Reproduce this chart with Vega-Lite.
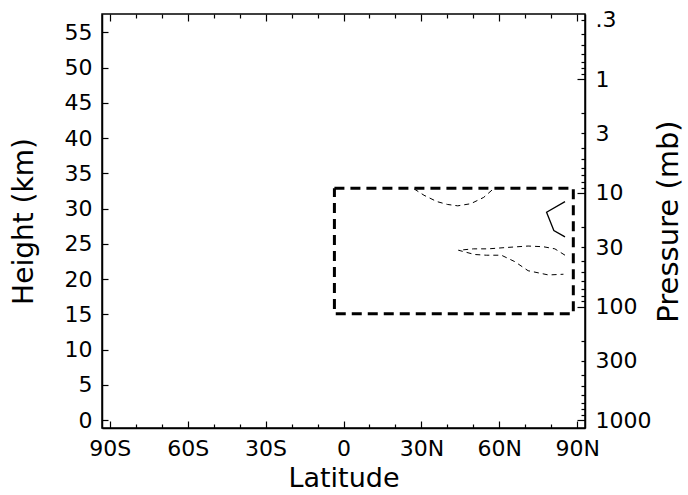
{
  "$schema": "https://vega.github.io/schema/vega-lite/v6.json",
  "autosize": "none",
  "padding": {"left": 102, "top": 14, "right": 103, "bottom": 67},
  "width": 483,
  "height": 414,
  "background": "white",
  "config": {
    "view": {"stroke": "black", "strokeWidth": 1.5},
    "font": "DejaVu Sans",
    "axis": {
      "labelFont": "DejaVu Sans",
      "titleFont": "DejaVu Sans",
      "labelColor": "black",
      "titleColor": "black",
      "domainColor": "black",
      "domainWidth": 1.5,
      "tickColor": "black",
      "tickWidth": 1.2,
      "grid": false,
      "labelFontSize": 22,
      "titleFontSize": 28,
      "titleFontWeight": "normal",
      "labelFlush": false,
      "labelOverlap": false
    }
  },
  "datasets": {
    "box": [
      {"lat": -3.5, "h": 32.9, "i": 1},
      {"lat": 88.5, "h": 32.9, "i": 2},
      {"lat": 88.5, "h": 15.1, "i": 3},
      {"lat": -3.5, "h": 15.1, "i": 4},
      {"lat": -3.5, "h": 32.9, "i": 5}
    ],
    "dashed": [
      {"id": "a", "lat": 27.2, "h": 32.8, "i": 1},
      {"id": "a", "lat": 31, "h": 31.9, "i": 2},
      {"id": "a", "lat": 36, "h": 31.0, "i": 3},
      {"id": "a", "lat": 40, "h": 30.6, "i": 4},
      {"id": "a", "lat": 44, "h": 30.4, "i": 5},
      {"id": "a", "lat": 49, "h": 30.7, "i": 6},
      {"id": "a", "lat": 54, "h": 31.6, "i": 7},
      {"id": "a", "lat": 57.7, "h": 32.8, "i": 8},
      {"id": "b", "lat": 85.3, "h": 23.4, "i": 1},
      {"id": "b", "lat": 81.4, "h": 24.3, "i": 2},
      {"id": "b", "lat": 77, "h": 24.6, "i": 3},
      {"id": "b", "lat": 71.1, "h": 24.7, "i": 4},
      {"id": "b", "lat": 63, "h": 24.5, "i": 5},
      {"id": "b", "lat": 55.7, "h": 24.3, "i": 6},
      {"id": "b", "lat": 50, "h": 24.3, "i": 7},
      {"id": "b", "lat": 44.3, "h": 24.1, "i": 8},
      {"id": "b", "lat": 50.5, "h": 23.5, "i": 9},
      {"id": "b", "lat": 55, "h": 23.4, "i": 10},
      {"id": "b", "lat": 60.8, "h": 23.4, "i": 11},
      {"id": "b", "lat": 65.9, "h": 22.5, "i": 12},
      {"id": "b", "lat": 71.1, "h": 21.2, "i": 13},
      {"id": "b", "lat": 78.9, "h": 20.6, "i": 14},
      {"id": "b", "lat": 84.7, "h": 20.7, "i": 15}
    ],
    "solid": [
      {"lat": 85.3, "h": 31.0, "i": 1},
      {"lat": 78.2, "h": 29.5, "i": 2},
      {"lat": 81.0, "h": 26.9, "i": 3},
      {"lat": 85.3, "h": 26.0, "i": 4}
    ],
    "pressure": [
      {"lat": 0, "p": 1000},
      {"lat": 0, "p": 0.3}
    ]
  },
  "layer": [
    {
      "layer": [
        {
          "data": {"name": "box"},
          "mark": {"type": "line", "color": "black", "strokeWidth": 3, "strokeDash": [10, 6]},
          "encoding": {
            "x": {
              "field": "lat", "type": "quantitative",
              "scale": {"domain": [-93, 93], "nice": false, "zero": false},
              "axis": {
                "orient": "bottom",
                "title": "Latitude",
                "titleFontSize": 27,
                "values": [-90, -60, -30, 0, 30, 60, 90],
                "labelExpr": "datum.value == 0 ? '0' : (datum.value < 0 ? (-datum.value) + 'S' : datum.value + 'N')",
                "ticks": false,
                "labelPadding": 10,
                "titlePadding": 6
              }
            },
            "y": {
              "field": "h", "type": "quantitative",
              "scale": {"domain": [-1.1, 57.6], "nice": false, "zero": false},
              "axis": {
                "orient": "left",
                "title": "Height (km)",
                "values": [0, 5, 10, 15, 20, 25, 30, 35, 40, 45, 50, 55],
                "ticks": false,
                "labelPadding": 10,
                "titlePadding": 26
              }
            },
            "order": {"field": "i"}
          }
        },
        {
          "data": {"name": "dashed"},
          "mark": {"type": "line", "color": "black", "strokeWidth": 1, "strokeDash": [5, 4]},
          "encoding": {
            "x": {"field": "lat", "type": "quantitative", "axis": null},
            "y": {"field": "h", "type": "quantitative", "axis": null},
            "detail": {"field": "id"},
            "order": {"field": "i"}
          }
        },
        {
          "data": {"name": "solid"},
          "mark": {"type": "line", "color": "black", "strokeWidth": 1.3},
          "encoding": {
            "x": {"field": "lat", "type": "quantitative", "axis": null},
            "y": {"field": "h", "type": "quantitative", "axis": null},
            "order": {"field": "i"}
          }
        },
        {
          "data": {"name": "box"},
          "mark": {"type": "point", "opacity": 0},
          "encoding": {
            "x": {
              "field": "lat", "type": "quantitative",
              "axis": {
                "orient": "bottom", "title": null, "labels": false, "domain": false, "zindex": 1,
                "values": [-90, -80, -70, -60, -50, -40, -30, -20, -10, 0, 10, 20, 30, 40, 50, 60, 70, 80, 90],
                "tickSize": {"condition": {"test": "datum.value % 30 == 0", "value": -7}, "value": -4}
              }
            },
            "y": {
              "field": "h", "type": "quantitative",
              "axis": {
                "orient": "left", "title": null, "labels": false, "domain": false, "zindex": 1,
                "values": [0, 5, 10, 15, 20, 25, 30, 35, 40, 45, 50, 55],
                "tickSize": -6
              }
            }
          }
        },
        {
          "data": {"name": "box"},
          "mark": {"type": "point", "opacity": 0},
          "encoding": {
            "x": {
              "field": "lat", "type": "quantitative",
              "axis": {
                "orient": "top", "title": null, "labels": false, "domain": false, "zindex": 1,
                "values": [-90, -80, -70, -60, -50, -40, -30, -20, -10, 0, 10, 20, 30, 40, 50, 60, 70, 80, 90],
                "tickSize": {"condition": {"test": "datum.value % 30 == 0", "value": -7}, "value": -4}
              }
            },
            "y": {"field": "h", "type": "quantitative", "axis": null}
          }
        }
      ],
      "resolve": {"axis": {"x": "independent", "y": "independent"}}
    },
    {
      "layer": [
        {
          "data": {"name": "pressure"},
          "mark": {"type": "point", "opacity": 0},
          "encoding": {
            "x": {"field": "lat", "type": "quantitative", "axis": null},
            "y": {
              "field": "p", "type": "quantitative",
              "scale": {"type": "log", "domain": [0.267, 1170], "reverse": true, "nice": false},
              "axis": {
                "orient": "right",
                "title": "Pressure (mb)",
                "titleAngle": 270,
                "titleBaseline": "top",
                "titleFontSize": 29,
                "values": [0.3, 1, 3, 10, 30, 100, 300, 1000],
                "labelExpr": "datum.value == 0.3 ? '.3' : '' + datum.value",
                "ticks": false,
                "labelPadding": 10,
                "titlePadding": 4
              }
            }
          }
        },
        {
          "data": {"name": "pressure"},
          "mark": {"type": "point", "opacity": 0},
          "encoding": {
            "x": {"field": "lat", "type": "quantitative", "axis": null},
            "y": {
              "field": "p", "type": "quantitative",
              "axis": {
                "orient": "right", "title": null, "labels": false, "domain": false, "zindex": 1,
                "values": [0.3, 0.4, 0.5, 0.6, 0.7, 0.8, 0.9, 1, 2, 3, 4, 5, 6, 7, 8, 9, 10, 20, 30, 40, 50, 60, 70, 80, 90, 100, 200, 300, 400, 500, 600, 700, 800, 900, 1000],
                "tickSize": {"condition": {"test": "indexof([1, 10, 100, 1000], datum.value) >= 0", "value": -8}, "value": -4}
              }
            }
          }
        }
      ],
      "resolve": {"axis": {"y": "independent"}}
    }
  ],
  "resolve": {"scale": {"y": "independent"}, "axis": {"x": "independent", "y": "independent"}}
}
